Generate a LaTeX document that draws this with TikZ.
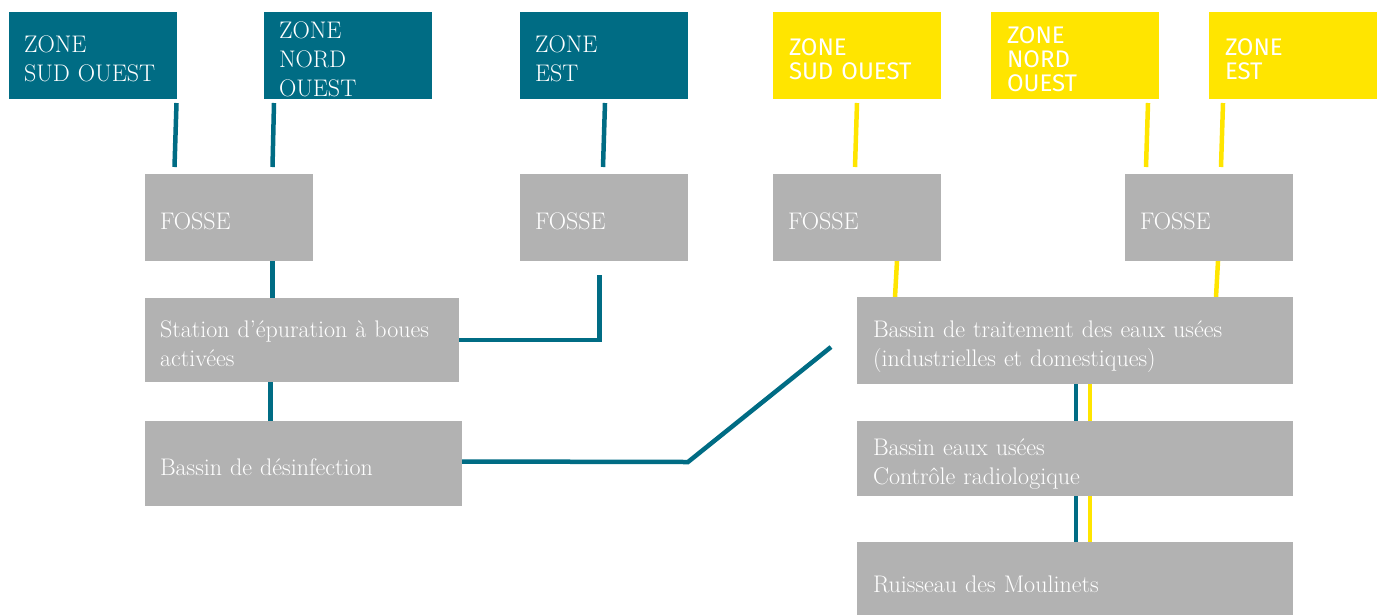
\documentclass[tikz,border=0pt]{standalone}
\usepackage{fontspec}
\usepackage{tikz}
\usetikzlibrary{backgrounds}
\newfontfamily\zonefont{Fira Sans}
\definecolor{petrol}{HTML}{006C84}
\definecolor{jaune}{HTML}{FFE500}
\definecolor{gris}{HTML}{B2B2B2}

\begin{document}
\begin{tikzpicture}[x=1pt,y=-1pt,
	  zone/.style={rectangle,anchor=north west,fill=petrol,text=white,inner xsep=15pt,inner ysep=0pt,outer sep=0pt,text width=138pt,minimum height=87pt,align=left,font=\fontsize{24}{29}\selectfont,
	    execute at begin node={\rule{0pt}{29pt}},execute at end node={\rule[-6pt]{0pt}{6pt}}},
	  yzone/.style={zone,fill=jaune,inner xsep=16pt,text width=136pt,font=\zonefont\fontsize{24}{24}\selectfont},
	  box/.style={zone,fill=gris,text=white},
	  tline/.style={color=petrol,line width=4.5pt},
	  yline/.style={color=jaune,line width=4.5pt}]
	  \useasboundingbox (0,0) rectangle (1378,614);
	  \clip (0,0) rectangle (1378,614);
	  \node[zone] (ta) at (9,12) {ZONE\\SUD OUEST};
	  \node[zone,inner ysep=-3pt] (tb) at (264,12) {ZONE\\NORD\\OUEST};
	  \node[zone] (tc) at (520,12) {ZONE\\EST};
	  \node[yzone] (ya) at (773,12) {ZONE\\SUD OUEST};
	  \node[yzone] (yb) at (991,12) {ZONE\\NORD\\OUEST};
	  \node[yzone] (yc) at (1209,12) {ZONE\\EST};
	  \node[box] (f1) at (145,174) {FOSSE};
	  \node[box] (f2) at (520,174) {FOSSE};
	  \node[box] (f3) at (773,174) {FOSSE};
	  \node[box] (f4) at (1125,174) {FOSSE};
	  \node[box,text width=284pt,minimum height=84pt] (st) at (145,298) {Station d’épuration à boues\\activées};
	  \node[box,text width=287pt,minimum height=85pt] (bd) at (145,421) {Bassin de désinfection};
	  \node[box,inner xsep=16pt,text width=404pt] (bt) at (857,297) {Bassin de traitement des eaux usées\\(industrielles et domestiques)};
	  \node[box,inner xsep=16pt,text width=404pt,minimum height=75pt] (br) at (857,421) {Bassin eaux usées\\Contrôle radiologique};
	  \node[box,inner xsep=16pt,text width=404pt,minimum height=77pt] (ru) at (857,542) {Ruisseau des Moulinets};
	  \coordinate (bcorner) at (688,462);
	  \coordinate (bout) at (831,347);
%
	  \begin{scope}[on background layer]
	  \path[tline]
	    ([xshift=-0.5pt,yshift=-4pt]ta.south east) edge ([xshift=29.5pt,yshift=7pt]f1.north west)
	    ([xshift=10pt,yshift=-4pt]tb.south west) edge ([xshift=127.5pt,yshift=7pt]f1.north west)
	    ([xshift=1pt,yshift=-4pt]tc.south) edge ([xshift=-1pt,yshift=7pt]f2.north)
	    ([xshift=127.5pt]f1.south west) edge ([xshift=127.5pt]st.north west)
	    ([xshift=125.5pt]st.south west) edge ([xshift=125.5pt]bd.north west)
	    ([xshift=219pt]bt.south west) edge ([xshift=219pt]ru.north west);
	  \draw[tline] (st.east) -| ([xshift=-4.5pt,yshift=-14pt]f2.south);
	  \draw[tline] ([yshift=2pt]bd.east) -- (bcorner) -- (bout);
	  \path[yline]
	    ([yshift=-4pt]ya.south) edge ([xshift=-2pt,yshift=7pt]f3.north)
	    ([xshift=-11pt,yshift=-4pt]yb.south east) edge ([xshift=21pt,yshift=7pt]f4.north west)
	    ([xshift=14pt,yshift=-4pt]yc.south west) edge ([xshift=96pt,yshift=7pt]f4.north west)
	    ([xshift=124pt]f3.south west) edge ([xshift=38pt]bt.north west)
	    ([xshift=93pt]f4.south west) edge ([xshift=359pt]bt.north west)
	    ([xshift=233pt]bt.south west) edge ([xshift=233pt]ru.north west);
	  \end{scope}
	\end{tikzpicture}
\end{document}
